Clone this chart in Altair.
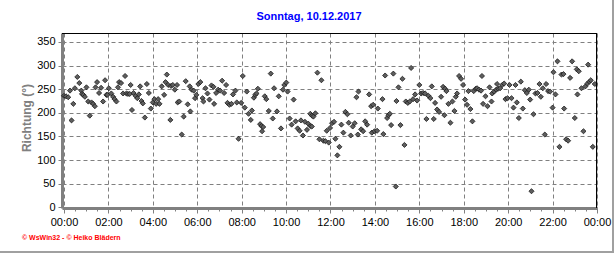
import altair as alt
import pandas as pd

# time of day in hours, wind direction in degrees
hours = [
    0.00, 0.09, 0.19, 0.27, 0.34, 0.42, 0.49, 0.60, 0.69, 0.78, 0.81, 0.87, 0.94,
    1.01, 1.09, 1.16, 1.24, 1.31, 1.39, 1.42, 1.49, 1.58, 1.67, 1.76, 1.85, 1.91,
    1.95, 2.02, 2.13, 2.21, 2.28, 2.36, 2.43, 2.48, 2.57, 2.66, 2.75, 2.81, 2.88,
    2.96, 3.00, 3.06, 3.13, 3.22, 3.30, 3.37, 3.43, 3.49, 3.55, 3.64, 3.73, 3.82,
    3.91, 4.00, 4.07, 4.15, 4.24, 4.30, 4.40, 4.51, 4.57, 4.63, 4.69,
    4.79, 4.82, 4.90, 4.99, 5.09, 5.12, 5.19, 5.30, 5.39, 5.48, 5.57, 5.66, 5.69,
    5.75, 5.84, 5.90, 5.96, 6.05, 6.14, 6.24, 6.28, 6.37, 6.46, 6.55, 6.64, 6.73,
    6.76, 6.85, 6.94, 7.03, 7.12, 7.21, 7.30, 7.36, 7.45, 7.54, 7.61, 7.72, 7.78,
    7.86, 7.98, 8.05, 8.14, 8.23, 8.31, 8.41, 8.46, 8.55, 8.61, 8.67, 8.73, 8.83,
    8.89, 8.92, 8.97, 9.04, 9.11, 9.22, 9.31, 9.40, 9.46,
    9.59, 9.67, 9.77, 9.86, 9.92, 10.01, 10.07, 10.16, 10.25, 10.34, 10.43, 10.52,
    10.61, 10.67, 10.76, 10.85, 10.94, 11.00, 11.09, 11.16, 11.09, 11.17, 11.23,
    11.32, 11.41, 11.50, 11.59, 11.68, 11.77, 11.83, 11.92, 11.98, 12.07, 12.16,
    12.22, 12.31, 12.40, 12.49, 12.58, 12.67, 12.76, 12.82, 12.91, 13.00, 13.09,
    13.17, 13.26, 13.23, 13.38, 13.47, 13.56, 13.65, 13.74, 13.83, 13.92, 13.86,
    13.98, 14.10, 14.13,
    14.34, 14.38, 14.46, 14.55, 14.61, 14.67, 14.73, 14.83, 14.94, 14.97, 15.06,
    15.15, 15.24, 15.33, 15.39, 15.48, 15.57, 15.63, 15.72, 15.81, 15.90, 16.00,
    16.08, 16.17, 16.26, 16.32, 16.41, 16.50, 16.56, 16.65, 16.71, 16.80, 16.89,
    16.98, 17.07, 17.13, 17.16, 17.22, 17.31, 17.40, 17.49, 17.58, 17.64, 17.70,
    17.79, 17.88, 17.97, 18.06, 18.15, 18.21, 18.30, 18.39, 18.45, 18.54, 18.60,
    18.69, 18.78, 18.82, 18.87,
    18.98, 19.07, 19.16, 19.25, 19.28, 19.37, 19.46, 19.50, 19.55, 19.64, 19.73,
    19.82, 19.88, 19.97, 20.06, 20.15, 20.24, 20.33, 20.39, 20.48, 20.57, 20.66,
    20.75, 20.84, 20.93, 20.99, 21.05, 21.14, 21.23, 21.32, 21.41, 21.47, 21.56,
    21.65, 21.71, 21.80, 21.89, 22.00, 22.04, 22.13, 22.22, 22.31, 22.40, 22.49,
    22.52, 22.61, 22.70, 22.79, 22.88, 23.00, 23.09, 23.18, 23.12, 23.30, 23.39,
    23.48, 23.57, 23.66, 23.72, 23.60, 23.81, 23.90,
]
direction = [
    236, 235, 233, 247, 184, 219, 252, 276, 263, 247, 240, 238, 234,
    254, 224, 194, 222, 219, 214, 254, 265, 242, 253, 224, 269, 238,
    238, 252, 241, 234, 229, 224, 254, 265, 263, 241, 278, 241, 240,
    240, 259, 206, 242, 236, 231, 239, 256, 225, 220, 190, 261, 242,
    209, 222, 229, 219, 229, 219, 256, 238, 265, 281, 259,
    185, 257, 259, 249, 259, 222, 224, 154, 192, 267, 218, 256, 203,
    249, 247, 231, 238, 261, 265, 231, 224, 252, 241, 228, 258, 255,
    219, 242, 249, 247, 268, 242, 259, 221, 217, 219, 239, 247, 222,
    145, 221, 278, 211, 245, 198, 185, 205, 232, 238, 241, 251, 176,
    172, 161, 170, 235, 229, 204, 283, 188, 252,
    203, 235, 167, 249, 259, 264, 245, 188, 175, 228, 182, 167,
    162, 184, 152, 181, 164, 177, 172, 171, 198, 194, 192,
    199, 285, 144, 269, 141, 140, 162, 137, 168, 178, 181,
    145, 110, 128, 175, 158, 202, 197, 179, 152, 171, 178,
    233, 245, 154, 165, 161, 182, 175, 239, 214, 217, 158,
    161, 162, 209,
    229, 155, 279, 189, 195, 198, 174, 283, 44, 225, 254,
    174, 272, 132, 224, 221, 224, 295, 229, 239, 226, 259,
    241, 242, 241, 187, 236, 231, 256, 187, 221, 207, 202,
    234, 255, 195, 251, 246, 219, 179, 224, 204, 234, 241,
    278, 272, 259, 228, 217, 246, 208, 182, 246, 251, 252,
    249, 247, 278, 219,
    235, 214, 254, 224, 241, 245, 249, 261, 251, 252, 259,
    262, 229, 231, 259, 231, 211, 259, 222, 189, 266, 209,
    248, 242, 249, 228, 34, 197, 241, 242, 261, 234, 252,
    154, 261, 246, 245, 211, 286, 239, 309, 128, 281, 282,
    209, 144, 141, 274, 309, 189, 292, 288, 239, 252, 161,
    256, 262, 266, 269, 302, 128, 261,
]

title_text = "Sonntag, 10.12.2017"
y_title = "Richtung (°)"
footer_text = "© WsWin32  -  © Heiko Blädern"
major_hours = list(range(0, 25, 2))
minor_hours = [h / 2 for h in range(0, 49)]
y_ticks = list(range(0, 351, 50))

df = pd.DataFrame({"t": hours, "dir": direction})

W, H = 535, 175
FONT = "Liberation Sans"

xscale = alt.Scale(domain=[-0.09, 24], nice=False, zero=False)
yscale = alt.Scale(domain=[-1.5, 369], nice=False, zero=False)

label_expr = "(datum.value % 24 < 10 ? '0' : '') + (datum.value % 24) + ':00'"

points = alt.Chart(df).mark_point(
    shape="diamond", filled=True, size=26, fill="#5e5e5e",
    stroke="#1a1a1a", strokeWidth=0.8, opacity=1,
).encode(
    x=alt.X("t:Q", scale=xscale, axis=alt.Axis(
        values=major_hours, labelExpr=label_expr, title=None, orient="bottom",
        grid=True, gridDash=[4, 3], gridColor="#808080", gridWidth=1,
        domainColor="#808080", domainWidth=3, tickColor="#808080",
        tickSize=5, tickWidth=1, labelPadding=3, labelFont=FONT,
        labelFontSize=11, labelColor="#000000", labelFlush=False,
    )),
    y=alt.Y("dir:Q", scale=yscale, axis=alt.Axis(
        values=y_ticks, title=y_title, grid=True, gridDash=[4, 3],
        gridColor="#808080", gridWidth=1, domainColor="#808080",
        domainWidth=3, tickColor="#808080", tickSize=4, tickWidth=1,
        labelPadding=3, labelFont=FONT, labelFontSize=11,
        labelColor="#000000", titleFont=FONT, titleFontSize=12,
        titleFontWeight="bold", titleColor="#808080", titleX=-36,
        titleY=H / 2 - 3, titleAngle=270, titleAlign="center",
        titleBaseline="middle",
    )),
)

minor = alt.Chart(df).mark_point(opacity=0).encode(
    x=alt.X("t:Q", scale=xscale, axis=alt.Axis(
        values=minor_hours, labels=False, title=None, orient="bottom",
        grid=False, domain=False, tickColor="#808080", tickSize=3,
        tickWidth=1,
    )),
    y=alt.value(10),
)

frame_top = alt.Chart(df).mark_rule(color="#000000", strokeWidth=1).encode(
    x=alt.value(0), x2=alt.value(W), y=alt.value(0.5)
)
frame_right = alt.Chart(df).mark_rule(color="#000000", strokeWidth=1).encode(
    x=alt.value(W - 0.5), y=alt.value(0), y2=alt.value(H)
)
border_right = alt.Chart(df).mark_rule(color="#a0a0a0", strokeWidth=2).encode(
    x=alt.value(551), y=alt.value(-33), y2=alt.value(219)
)
border_bottom = alt.Chart(df).mark_rule(color="#a0a0a0", strokeWidth=2).encode(
    x=alt.value(-62), x2=alt.value(552), y=alt.value(219)
)
footer = alt.Chart(pd.DataFrame({"txt": [footer_text]})).mark_text(
    align="left", baseline="middle", color="#ff0000", fontSize=7,
    fontWeight="bold", font=FONT,
).encode(x=alt.value(-40), y=alt.value(205), text="txt:N")
title = alt.Chart(pd.DataFrame({"txt": [title_text]})).mark_text(
    align="center", baseline="middle", color="#0000ff", fontSize=11,
    fontWeight="bold", font=FONT,
).encode(x=alt.value(247), y=alt.value(-16), text="txt:N")

chart = alt.layer(
    points, minor, frame_top, frame_right, border_right, border_bottom,
    footer, title,
).resolve_axis(x="independent").properties(
    width=W, height=H,
    padding={"left": 62, "top": 33, "right": 19, "bottom": 45},
    autosize=alt.AutoSizeParams(type="none"),
).configure_view(stroke=None).configure(background="#ffffff")

chart.save("out.html", embed_options={"renderer": "svg", "actions": False})
